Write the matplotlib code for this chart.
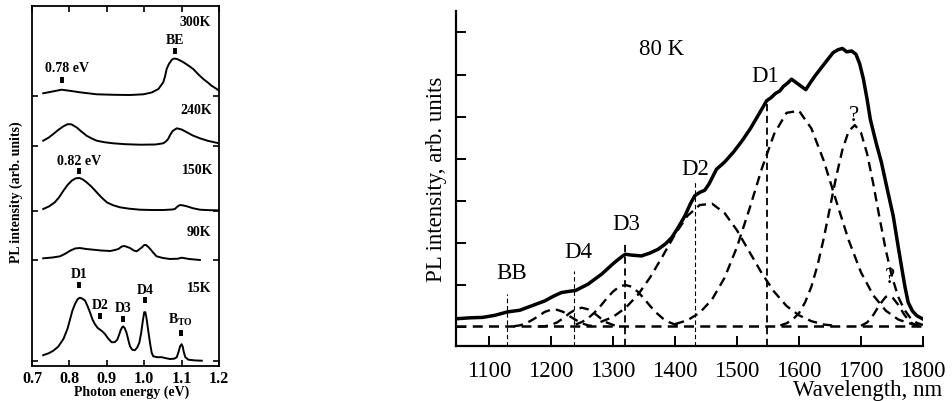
import matplotlib
matplotlib.use("Agg")
import matplotlib.pyplot as plt

plt.rcParams['font.family'] = ['Liberation Serif', 'DejaVu Serif']
plt.rcParams['mathtext.fontset'] = 'custom'
plt.rcParams['mathtext.rm'] = 'Liberation Serif:bold'
plt.rcParams['mathtext.bf'] = 'Liberation Serif:bold'

# ---------------- Left panel data (photon energy, eV) ----------------
temps = ["300K", "240K", "150K", "90K", "15K"]
offsets = [270, 220, 155, 106, 5.3]

e_300 = [0.730, 0.755, 0.779, 0.805, 0.828, 0.873, 0.920, 0.962, 0.998, 1.020, 1.038, 1.051, 1.056,
         1.060, 1.066, 1.074, 1.080, 1.088, 1.096, 1.105, 1.118, 1.131, 1.145, 1.158, 1.170, 1.180, 1.192, 1.200]
i_300 = [2.7, 4.5, 6.3, 5.0, 3.7, 1.7, 1.2, 1.0, 1.7, 3.5, 7.0, 13.7, 20.0,
         27.0, 32.0, 36.3, 37.5, 37.0, 35.5, 33.7, 30.5, 27.0, 21.5, 17.0, 13.5, 10.3, 7.5, 5.3]

e_240 = [0.730, 0.745, 0.757, 0.770, 0.784, 0.795, 0.805, 0.819, 0.832, 0.846, 0.860, 0.873, 0.895,
         0.917, 0.950, 0.989, 1.030, 1.051, 1.058, 1.064, 1.070, 1.076, 1.087, 1.100, 1.114, 1.130,
         1.149, 1.170, 1.194, 1.200]
i_240 = [5.3, 8.5, 12.0, 16.0, 19.7, 21.8, 21.7, 18.7, 14.5, 10.3, 7.5, 5.3, 3.7,
         2.7, 1.8, 1.3, 1.5, 2.7, 4.5, 7.0, 11.5, 15.0, 17.7, 16.5, 13.7, 10.5,
         7.7, 5.2, 3.2, 2.7]

e_150 = [0.730, 0.745, 0.761, 0.772, 0.784, 0.795, 0.806, 0.817, 0.827, 0.836, 0.846, 0.860, 0.873,
         0.886, 0.900, 0.915, 0.935, 0.960, 0.989, 1.020, 1.051, 1.075, 1.082, 1.089, 1.096, 1.105,
         1.114, 1.130, 1.149, 1.175, 1.200]
i_150 = [2.0, 4.5, 8.7, 13.5, 20.3, 26.0, 30.3, 32.7, 33.0, 31.5, 28.7, 24.0, 18.7,
         13.5, 8.7, 6.0, 3.7, 2.3, 1.3, 1.0, 1.0, 1.5, 2.0, 4.5, 6.0, 5.5,
         4.7, 2.8, 1.3, 0.8, 0.7]

e_90 = [0.730, 0.755, 0.775, 0.790, 0.802, 0.815, 0.828, 0.845, 0.864, 0.885, 0.909, 0.922, 0.931,
        0.940, 0.947, 0.955, 0.962, 0.972, 0.980, 0.988, 0.993, 1.000, 1.005, 1.011, 1.016, 1.025,
        1.033, 1.050, 1.069, 1.090, 1.100, 1.105, 1.120, 1.149]
i_90 = [1.7, 2.5, 3.7, 6.5, 9.3, 11.5, 12.0, 11.0, 10.3, 9.5, 9.0, 10.0, 11.0,
        13.5, 14.0, 13.0, 12.0, 9.5, 8.7, 11.0, 12.3, 15.0, 15.0, 13.0, 11.0, 7.0,
        3.7, 2.0, 1.0, 1.3, 2.3, 2.0, 1.0, 0.0]

e_15 = [0.730, 0.745, 0.757, 0.770, 0.784, 0.795, 0.802, 0.808, 0.815, 0.822, 0.828, 0.835, 0.842,
        0.848, 0.855, 0.862, 0.868, 0.875, 0.882, 0.889, 0.895, 0.904, 0.913, 0.921, 0.928, 0.933,
        0.937, 0.941, 0.944, 0.948, 0.953, 0.958, 0.962, 0.968, 0.975, 0.981, 0.987, 0.992, 0.996,
        1.000, 1.003, 1.006, 1.010, 1.016, 1.020, 1.024, 1.035, 1.047, 1.058, 1.069, 1.080, 1.087,
        1.092, 1.096, 1.100, 1.103, 1.106, 1.110, 1.118, 1.135, 1.154]
i_15 = [5.5, 7.5, 10.0, 14.0, 21.7, 32.0, 41.7, 50.0, 56.7, 61.5, 63.0, 62.0, 60.0,
        55.0, 48.4, 41.0, 36.7, 33.0, 31.0, 29.0, 26.7, 22.0, 18.5, 18.5, 21.0, 26.0,
        30.5, 33.5, 34.3, 32.5, 27.7, 20.0, 14.4, 11.0, 10.5, 13.0, 18.0, 28.0, 39.0,
        48.5, 48.5, 43.0, 32.0, 16.7, 8.0, 4.4, 3.5, 3.5, 2.5, 1.7, 2.0, 3.4,
        9.0, 14.4, 16.5, 14.0, 8.4, 3.5, 1.0, 0.3, 0.0]

left_spectra = [(e_300, i_300), (e_240, i_240), (e_150, i_150), (e_90, i_90), (e_15, i_15)]

# peak markers: label, energy, marker height, label height (data units)
peak_labels = ["0.78 eV", "BE", "0.82 eV", "D1", "D2", "D3", r"D4", r"B$_{\mathregular{TO}}$"]
peak_e = [0.781, 1.082, 0.827, 0.827, 0.882, 0.944, 1.002, 1.098]
peak_mark_y = [286, 315.3, 194.7, 81, 50.3, 47, 66, 32.7]
peak_text_y = [298, 326.5, 205, 92, 61, 58, 77, 47]
peak_text_e = [0.793, 1.082, 0.827, 0.827, 0.882, 0.944, 1.002, 1.096]

temp_label_e = [1.136, 1.138, 1.142, 1.145, 1.147]
temp_label_y = [344.3, 256, 196.3, 134.3, 78]

# ---------------- Right panel data (wavelength, nm) ----------------
wl_total = [1050, 1070, 1090, 1110, 1130, 1150, 1170, 1190, 1205, 1217, 1230, 1240, 1260, 1282, 1303,
            1315, 1320, 1330, 1346, 1360, 1373, 1385, 1395, 1405, 1416, 1425, 1432, 1440, 1448, 1455,
            1467, 1480, 1494, 1508, 1521, 1535, 1548, 1555, 1562, 1569, 1575, 1582, 1588, 1600, 1611,
            1618, 1626, 1637, 1647, 1655, 1663, 1670, 1677, 1685, 1692, 1698, 1704, 1710, 1715, 1724,
            1733, 1742, 1752, 1759, 1766, 1771, 1776, 1783, 1790, 1800]
pl_total = [0.20, 0.22, 0.23, 0.28, 0.36, 0.40, 0.51, 0.62, 0.74, 0.82, 0.85, 0.87, 1.02, 1.26, 1.54,
            1.68, 1.73, 1.71, 1.69, 1.76, 1.85, 1.98, 2.13, 2.36, 2.64, 2.93, 3.12, 3.20, 3.25, 3.40,
            3.75, 3.92, 4.15, 4.42, 4.70, 5.05, 5.38, 5.45, 5.55, 5.61, 5.72, 5.80, 5.89, 5.76, 5.64,
            5.80, 5.97, 6.18, 6.37, 6.52, 6.59, 6.62, 6.54, 6.56, 6.48, 6.25, 5.89, 5.40, 4.94, 4.40,
            3.91, 3.30, 2.64, 2.00, 1.38, 0.95, 0.59, 0.38, 0.27, 0.19]

wl_base = [1047, 1800]
pl_base = [0.02, 0.02]

wl_a = [1140, 1150, 1160, 1170, 1180, 1190, 1200, 1210, 1220, 1230, 1240, 1250, 1260, 1270]
pl_a = [0.02, 0.04, 0.09, 0.17, 0.26, 0.36, 0.41, 0.41, 0.36, 0.26, 0.17, 0.09, 0.04, 0.02]

wl_d4 = [1180, 1190, 1200, 1210, 1220, 1230, 1240, 1250, 1260, 1270, 1280, 1290, 1300, 1310]
pl_d4 = [0.01, 0.02, 0.05, 0.11, 0.21, 0.33, 0.42, 0.46, 0.42, 0.33, 0.21, 0.11, 0.05, 0.02]

wl_d3 = [1240, 1250, 1260, 1270, 1280, 1290, 1300, 1310, 1320, 1330, 1340, 1350, 1360, 1370, 1380,
         1390, 1400, 1410]
pl_d3 = [0.06, 0.12, 0.21, 0.34, 0.50, 0.68, 0.84, 0.96, 1.00, 0.96, 0.84, 0.68, 0.50, 0.34, 0.21,
         0.12, 0.06, 0.03]

wl_d2 = [1280, 1300, 1320, 1340, 1360, 1380, 1400, 1420, 1440, 1460, 1480, 1500, 1520, 1540, 1560,
         1580, 1600, 1620, 1640, 1660]
pl_d2 = [0.12, 0.24, 0.45, 0.76, 1.18, 1.68, 2.20, 2.64, 2.90, 2.93, 2.71, 2.30, 1.79, 1.28, 0.84,
         0.50, 0.28, 0.14, 0.06, 0.03]

wl_d1 = [1400, 1420, 1440, 1460, 1480, 1500, 1520, 1540, 1560, 1580, 1600, 1620, 1640, 1660, 1680,
         1700, 1720, 1740, 1760, 1780, 1800]
pl_d1 = [0.07, 0.16, 0.34, 0.66, 1.17, 1.90, 2.80, 3.76, 4.59, 5.09, 5.14, 4.72, 3.95, 3.00, 2.07,
         1.30, 0.75, 0.39, 0.18, 0.08, 0.03]

wl_q1 = [1570, 1580, 1590, 1600, 1610, 1620, 1630, 1640, 1650, 1660, 1670, 1680, 1690, 1700, 1710,
         1720, 1730, 1740, 1750, 1760, 1770, 1780, 1790, 1800]
pl_q1 = [0.04, 0.09, 0.18, 0.33, 0.59, 0.96, 1.47, 2.11, 2.84, 3.57, 4.21, 4.65, 4.80, 4.62, 4.11,
         3.39, 2.59, 1.83, 1.20, 0.72, 0.41, 0.21, 0.10, 0.05]

wl_q2 = [1700, 1710, 1720, 1730, 1740, 1750, 1760, 1770, 1780, 1790, 1800]
pl_q2 = [0.03, 0.11, 0.29, 0.53, 0.72, 0.72, 0.53, 0.29, 0.11, 0.03, 0.01]

components = [(wl_a, pl_a), (wl_d4, pl_d4), (wl_d3, pl_d3), (wl_d2, pl_d2),
              (wl_d1, pl_d1), (wl_q1, pl_q1), (wl_q2, pl_q2)]

marker_names = ["BB", "D4", "D3", "D2", "D1"]
marker_wl = [1130, 1238, 1320, 1432, 1549]
marker_top = [0.78, 1.34, 2.03, 3.44, 5.38]
marker_lw = [0.8, 0.8, 1.3, 0.8, 1.3]
marker_label_wl = [1137, 1245, 1322, 1432, 1545]
marker_label_y = [1.30, 1.79, 2.46, 3.77, 5.97]

extra_labels = ["80 K", "?", "?"]
extra_wl = [1378, 1689, 1746]
extra_y = [6.62, 5.06, 1.20]

right_xticks = [1100, 1200, 1300, 1400, 1500, 1600, 1700, 1800]
right_yticks = [0, 1, 2, 3, 4, 5, 6, 7]

# ---------------- Figure ----------------
fig = plt.figure(figsize=(9.53, 4.02), dpi=100)

# Left panel
axl = fig.add_axes([32 / 953, 1 - 367 / 402, 187 / 953, 360 / 402])
for (e, i), off in zip(left_spectra, offsets):
    axl.plot(e, [v + off for v in i], color='black', lw=1.4)
axl.set_xlim(0.7, 1.2)
axl.set_ylim(0, 360)
axl.set_xticks([0.7, 0.8, 0.9, 1.0, 1.1, 1.2])
axl.set_xticklabels(["0.7", "0.8", "0.9", "1.0", "1.1", "1.2"])
axl.set_yticks(offsets)
axl.set_yticklabels([])
axl.tick_params(direction='in', top=True, right=True, length=4, width=1.2, labelsize=11.5, pad=3)
for lab in axl.get_xticklabels():
    lab.set_fontweight('bold')
for sp in axl.spines.values():
    sp.set_linewidth(1.3)
axl.set_xlabel("Photon energy (eV)", fontsize=10, fontweight='bold')
axl.xaxis.set_label_coords(0.535, -0.052)
axl.set_ylabel("PL intensity (arb. units)", fontsize=10, fontweight='bold')
axl.yaxis.set_label_coords(-0.05, 0.486)

axl.plot(peak_e, peak_mark_y, linestyle='none', marker='|', markersize=4.8, mew=2.8, color='black')
for lab, e, y in zip(peak_labels, peak_text_e, peak_text_y):
    axl.text(e, y, lab, ha='center', va='center', fontsize=10, fontweight='bold')
for lab, e, y in zip(temps, temp_label_e, temp_label_y):
    axl.text(e, y, lab, ha='center', va='center', fontsize=10, fontweight='bold')

# Right panel
axr = fig.add_axes([456 / 953, 1 - 347 / 402, 467 / 953, 335 / 402])
axr.set_xlim(1047, 1800)
axr.set_ylim(-0.45, 7.51)
axr.plot(wl_base, pl_base, color='black', lw=1.8, dashes=(4, 2.5))
for wl, pl in components:
    axr.plot(wl, pl, color='black', lw=1.7, dashes=(4, 2.5))
axr.plot(wl_total, pl_total, color='black', lw=2.5)
for x, top, lw in zip(marker_wl, marker_top, marker_lw):
    axr.plot([x, x], [-0.45, top], color='black', lw=lw, dashes=(4, 2.5))
for lab, x, y in zip(marker_names, marker_label_wl, marker_label_y):
    axr.text(x, y, lab, ha='center', va='center', fontsize=16.5)
for lab, x, y in zip(extra_labels, extra_wl, extra_y):
    axr.text(x, y, lab, ha='center', va='center', fontsize=16.5)

axr.spines['top'].set_visible(False)
axr.spines['right'].set_visible(False)
for sp in ['left', 'bottom']:
    axr.spines[sp].set_linewidth(1.6)
axr.set_xticks(right_xticks)
axr.set_yticks(right_yticks)
axr.set_yticklabels([])
axr.tick_params(direction='in', length=7, width=1.4, labelsize=16.5, pad=10)
axr.set_xlabel("Wavelength, nm", fontsize=16.5, ha='right')
axr.xaxis.set_label_coords(1.042, -0.10)
axr.set_ylabel("PL intensity, arb. units", fontsize=16.5)
axr.yaxis.set_label_coords(-0.02, 0.5)

fig.savefig("out.png", dpi=100)
